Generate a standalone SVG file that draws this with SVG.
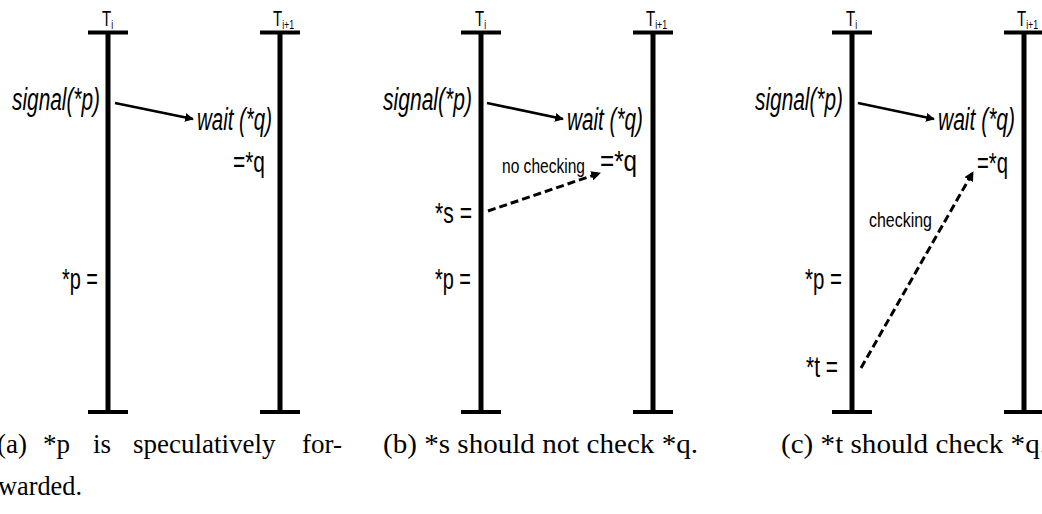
<svg xmlns="http://www.w3.org/2000/svg" width="1042" height="514" viewBox="0 0 1042 514">
<style>
.life{stroke:#000;stroke-width:5;fill:none}
.bar{stroke:#000;stroke-width:4;fill:none}
.lbl{font-family:"Liberation Sans",Arial,sans-serif;fill:#000}
.it{font-style:italic;font-size:31px}
.st{font-size:30px}
.sm{font-size:20px}
.T{font-size:22px}
.sub{font-size:13px}
.cap{font-family:"Liberation Serif","Times New Roman",serif;font-size:27px;fill:#000}
.solid{stroke:#000;stroke-width:2.6;fill:none}
.dash{stroke:#000;stroke-width:3;fill:none;stroke-dasharray:8 4}
</style>
<defs>
<marker id="ah" viewBox="0 0 10 10" refX="9" refY="5" markerWidth="3.4" markerHeight="3.4" orient="auto" markerUnits="strokeWidth">
<path d="M0,0 L10,5 L0,10 z" fill="#000"/>
</marker>
<marker id="ahd" viewBox="0 0 10 10" refX="9" refY="5" markerWidth="3.2" markerHeight="3.2" orient="auto" markerUnits="strokeWidth">
<path d="M0,0 L10,5 L0,10 z" fill="#000"/>
</marker>
</defs>
<rect width="1042" height="514" fill="#fff"/>

<!-- Panel (a) -->
<g id="panel-a">
<g id="a-Ti">
<line class="life" x1="108" y1="32" x2="108" y2="413"/>
<line class="bar" x1="88" y1="32.5" x2="128" y2="32.5"/>
<line class="bar" x1="88" y1="412" x2="128" y2="412"/>
<text class="lbl T" transform="translate(102,26) scale(0.68,1)">T<tspan class="sub" dy="3">i</tspan></text>
</g>
<g id="a-Ti1">
<line class="life" x1="280" y1="32" x2="280" y2="413"/>
<line class="bar" x1="260" y1="32.5" x2="300" y2="32.5"/>
<line class="bar" x1="260" y1="412" x2="300" y2="412"/>
<text class="lbl T" transform="translate(273,26) scale(0.68,1)">T<tspan class="sub" dy="3">i+1</tspan></text>
</g>
<g id="a-labels">
<text class="lbl it" x="12" y="110" textLength="88" lengthAdjust="spacingAndGlyphs">signal(*p)</text>
<text class="lbl it" x="197" y="130" textLength="75" lengthAdjust="spacingAndGlyphs">wait (*q)</text>
<text class="lbl st" x="233" y="172" textLength="32" lengthAdjust="spacingAndGlyphs">=*q</text>
<text class="lbl st" x="62" y="289" textLength="36" lengthAdjust="spacingAndGlyphs">*p =</text>
</g>
<g id="a-connectors">
<line class="solid" x1="115" y1="103" x2="193" y2="119" marker-end="url(#ah)"/>
</g>
<text class="cap" y="453"><tspan x="-3">(a)</tspan><tspan x="43">*p</tspan><tspan x="93">is</tspan><tspan x="133">speculatively</tspan><tspan x="302">for-</tspan></text>
<text class="cap" x="-2" y="495" textLength="84" lengthAdjust="spacingAndGlyphs">warded.</text>
</g>

<!-- Panel (b) -->
<g id="panel-b" transform="translate(373,0)">
<g id="b-Ti">
<line class="life" x1="108" y1="32" x2="108" y2="413"/>
<line class="bar" x1="88" y1="32.5" x2="128" y2="32.5"/>
<line class="bar" x1="88" y1="412" x2="128" y2="412"/>
<text class="lbl T" transform="translate(102,26) scale(0.68,1)">T<tspan class="sub" dy="3">i</tspan></text>
</g>
<g id="b-Ti1">
<line class="life" x1="280" y1="32" x2="280" y2="413"/>
<line class="bar" x1="260" y1="32.5" x2="300" y2="32.5"/>
<line class="bar" x1="260" y1="412" x2="300" y2="412"/>
<text class="lbl T" transform="translate(273,26) scale(0.68,1)">T<tspan class="sub" dy="3">i+1</tspan></text>
</g>
<g id="b-labels">
<text class="lbl it" x="10" y="110" textLength="89" lengthAdjust="spacingAndGlyphs">signal(*p)</text>
<text class="lbl it" x="194" y="130" textLength="76" lengthAdjust="spacingAndGlyphs">wait (*q)</text>
<text class="lbl st" x="227" y="171" textLength="37" lengthAdjust="spacingAndGlyphs">=*q</text>
<text class="lbl sm" x="129" y="173" textLength="83" lengthAdjust="spacingAndGlyphs">no checking</text>
<text class="lbl st" x="62" y="223" textLength="37" lengthAdjust="spacingAndGlyphs">*s =</text>
<text class="lbl st" x="62" y="289" textLength="36" lengthAdjust="spacingAndGlyphs">*p =</text>
</g>
<g id="b-connectors">
<line class="solid" x1="114" y1="103" x2="190" y2="119" marker-end="url(#ah)"/>
<line class="dash" x1="115" y1="211" x2="227" y2="173" marker-end="url(#ahd)"/>
</g>
<text class="cap" x="10" y="453" textLength="315" lengthAdjust="spacingAndGlyphs">(b) *s should not check *q.</text>
</g>

<!-- Panel (c) -->
<g id="panel-c" transform="translate(744,0)">
<g id="c-Ti">
<line class="life" x1="108" y1="32" x2="108" y2="413"/>
<line class="bar" x1="88" y1="32.5" x2="128" y2="32.5"/>
<line class="bar" x1="88" y1="412" x2="128" y2="412"/>
<text class="lbl T" transform="translate(102,26) scale(0.68,1)">T<tspan class="sub" dy="3">i</tspan></text>
</g>
<g id="c-Ti1">
<line class="life" x1="280" y1="32" x2="280" y2="413"/>
<line class="bar" x1="260" y1="32.5" x2="300" y2="32.5"/>
<line class="bar" x1="260" y1="412" x2="300" y2="412"/>
<text class="lbl T" transform="translate(273,26) scale(0.68,1)">T<tspan class="sub" dy="3">i+1</tspan></text>
</g>
<g id="c-labels">
<text class="lbl it" x="11" y="110" textLength="88" lengthAdjust="spacingAndGlyphs">signal(*p)</text>
<text class="lbl it" x="194" y="130" textLength="77" lengthAdjust="spacingAndGlyphs">wait (*q)</text>
<text class="lbl st" x="233" y="173" textLength="31" lengthAdjust="spacingAndGlyphs">=*q</text>
<text class="lbl sm" x="125" y="227" textLength="63" lengthAdjust="spacingAndGlyphs">checking</text>
<text class="lbl st" x="61" y="289" textLength="37" lengthAdjust="spacingAndGlyphs">*p =</text>
<text class="lbl st" x="62" y="377" textLength="32" lengthAdjust="spacingAndGlyphs">*t =</text>
</g>
<g id="c-connectors">
<line class="solid" x1="114" y1="103" x2="190" y2="119" marker-end="url(#ah)"/>
<line class="dash" x1="117" y1="368" x2="229" y2="172" marker-end="url(#ahd)"/>
</g>
<text class="cap" x="37" y="453" textLength="266" lengthAdjust="spacingAndGlyphs">(c) *t should check *q.</text>
</g>
</svg>
